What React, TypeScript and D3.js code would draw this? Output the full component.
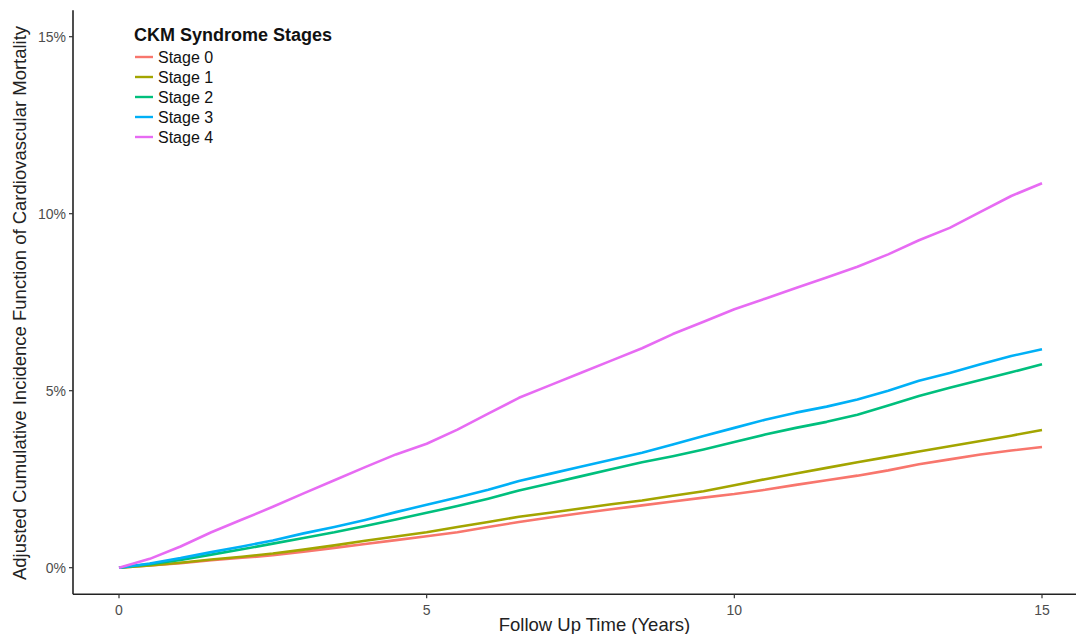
import React from "react";
import * as d3 from "d3";

const times = [0, 0.5, 1, 1.5, 2, 2.5, 3, 3.5, 4, 4.5, 5, 5.5, 6, 6.5, 7, 7.5, 8, 8.5, 9, 9.5, 10, 10.5, 11, 11.5, 12, 12.5, 13, 13.5, 14, 14.5, 15];

const stage0 = [0, 0.06, 0.13, 0.21, 0.28, 0.35, 0.45, 0.56, 0.67, 0.78, 0.89, 1.0, 1.15, 1.29, 1.42, 1.54, 1.65, 1.76, 1.87, 1.98, 2.08, 2.2, 2.34, 2.47, 2.6, 2.75, 2.92, 3.06, 3.2, 3.31, 3.41];
const stage1 = [0, 0.06, 0.14, 0.23, 0.31, 0.4, 0.51, 0.63, 0.76, 0.88, 1.0, 1.15, 1.29, 1.44, 1.55, 1.67, 1.79, 1.9, 2.03, 2.16, 2.33, 2.5, 2.66, 2.82, 2.98, 3.13, 3.28, 3.43, 3.58, 3.73, 3.89];
const stage2 = [0, 0.1, 0.22, 0.37, 0.52, 0.68, 0.84, 1.0, 1.18, 1.36, 1.55, 1.74, 1.95, 2.18, 2.38, 2.58, 2.78, 2.98, 3.15, 3.34, 3.55, 3.76, 3.95, 4.12, 4.32, 4.58, 4.85, 5.08, 5.3, 5.52, 5.75];
const stage3 = [0, 0.12, 0.27, 0.44, 0.6, 0.77, 0.97, 1.15, 1.35, 1.57, 1.78, 1.98, 2.2, 2.45, 2.65, 2.85, 3.05, 3.25, 3.48, 3.72, 3.95, 4.18, 4.38, 4.55, 4.75, 5.0, 5.28, 5.5, 5.75, 5.98, 6.17];
const stage4 = [0, 0.25, 0.6, 1.0, 1.36, 1.72, 2.1, 2.47, 2.84, 3.2, 3.5, 3.9, 4.35, 4.8, 5.15, 5.5, 5.85, 6.2, 6.6, 6.95, 7.3, 7.6, 7.9, 8.2, 8.5, 8.85, 9.25, 9.6, 10.05, 10.5, 10.86];

const stageNames = ["Stage 0", "Stage 1", "Stage 2", "Stage 3", "Stage 4"];
const stageColors = ["#F8766D", "#A3A500", "#00BF7D", "#00B0F6", "#E76BF3"];
const stageValues = [stage0, stage1, stage2, stage3, stage4];

const xTicks = [0, 5, 10, 15];
const yTicks = [0, 5, 10, 15];

const W = 1076;
const H = 634;

export default function App() {
  const x = d3.scaleLinear().domain([0, 15]).range([119, 1042]);
  const y = d3.scaleLinear().domain([0, 15]).range([567.7, 36.7]);
  const axisLeft = 73;
  const axisBottom = 594.3;
  const axisTop = y(15.75);

  const line = d3
    .line<[number, number]>()
    .x((d) => x(d[0]))
    .y((d) => y(d[1]))
    .curve(d3.curveLinear);

  const font = "'Liberation Sans', Arial, Helvetica, sans-serif";

  return (
    <div style={{ position: "absolute", left: 0, top: 0 }}>
      <svg width={W} height={H} style={{ display: "block", background: "#fff" }} fontFamily={font}>
        <rect x={0} y={0} width={W} height={H} fill="#fff" />
        {stageValues.map((vals, i) => (
          <path
            key={i}
            d={line(times.map((t, j) => [t, vals[j]] as [number, number])) || ""}
            fill="none"
            stroke={stageColors[i]}
            strokeWidth={2.6}
            strokeLinejoin="round"
          />
        ))}
        {/* axes */}
        <line x1={axisLeft} x2={axisLeft} y1={axisTop} y2={axisBottom} stroke="#222" strokeWidth={1.6} />
        <line x1={axisLeft} x2={W} y1={axisBottom} y2={axisBottom} stroke="#222" strokeWidth={1.6} />
        {yTicks.map((t) => (
          <g key={"y" + t}>
            <line x1={axisLeft - 4} x2={axisLeft} y1={y(t)} y2={y(t)} stroke="#333" strokeWidth={1.2} />
            <text x={axisLeft - 7} y={y(t)} dy="0.35em" textAnchor="end" fontSize={14} fill="#4d4d4d">
              {t + "%"}
            </text>
          </g>
        ))}
        {xTicks.map((t) => (
          <g key={"x" + t}>
            <line x1={x(t)} x2={x(t)} y1={axisBottom} y2={axisBottom + 4} stroke="#333" strokeWidth={1.2} />
            <text x={x(t)} y={axisBottom + 16} dy="0.35em" textAnchor="middle" fontSize={14} fill="#4d4d4d">
              {t}
            </text>
          </g>
        ))}
        <text x={594.5} y={624.5} dy="0.35em" textAnchor="middle" fontSize={18.5} fill="#222">
          Follow Up Time (Years)
        </text>
        <text
          transform={`translate(20, 303) rotate(-90)`}
          textAnchor="middle"
          dy="0.35em"
          fontSize={18.5}
          fill="#222"
        >
          Adjusted Cumulative Incidence Function of Cardiovascular Mortality
        </text>
        {/* legend */}
        <text x={134} y={35} dy="0.35em" fontSize={18} fontWeight="bold" fill="#111">
          CKM Syndrome Stages
        </text>
        {stageNames.map((n, i) => (
          <g key={n}>
            <line x1={135} x2={153} y1={57 + i * 20} y2={57 + i * 20} stroke={stageColors[i]} strokeWidth={2.4} />
            <text x={158} y={57 + i * 20} dy="0.35em" fontSize={16} fill="#111">
              {n}
            </text>
          </g>
        ))}
      </svg>
    </div>
  );
}
